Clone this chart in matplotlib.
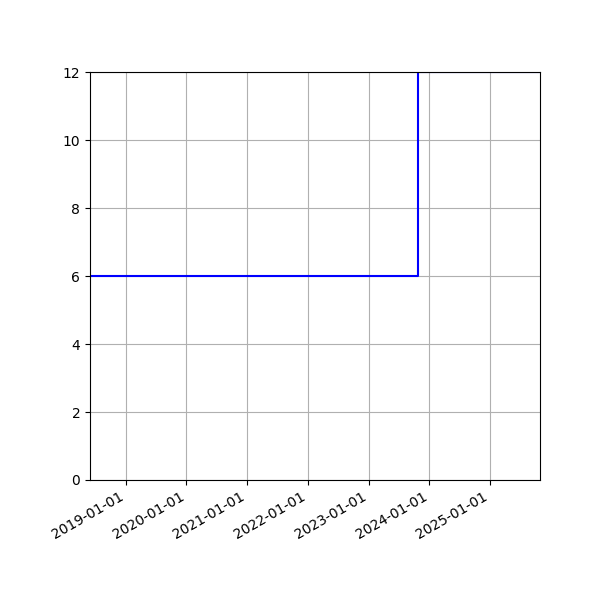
import matplotlib
matplotlib.use("Agg")
import matplotlib.pyplot as plt
import matplotlib.dates as mdates
import numpy as np

# step data
dates = np.array(["2018-06-01", "2023-10-22", "2025-10-27"], dtype="datetime64[D]")
values = [6, 12, 12]

fig, ax = plt.subplots(figsize=(6, 6), dpi=100)
ax.step(dates, values, where="post", color="blue")

ax.set_xlim(dates[0], dates[-1])
ax.set_ylim(0, 12)
ax.xaxis.set_major_locator(mdates.YearLocator())
ax.xaxis.set_major_formatter(mdates.DateFormatter("%Y-%m-%d"))
ax.grid(True)
fig.autofmt_xdate()
fig.subplots_adjust(left=0.15, right=0.9, top=0.88, bottom=0.2)

fig.savefig("out.png")
